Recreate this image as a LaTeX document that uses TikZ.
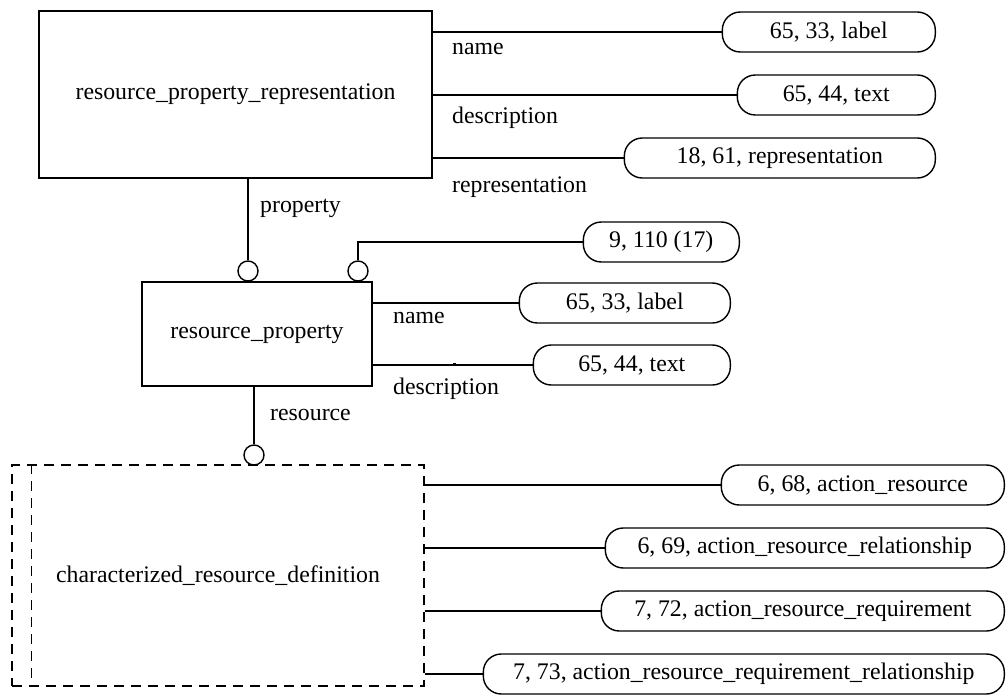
\documentclass[tikz,border=0pt]{standalone}
\usepackage{fontspec}
\setmainfont{Liberation Serif}
\begin{document}
\begin{tikzpicture}[x=1pt,y=-1pt,
  every node/.style={font=\fontsize{23.8}{28}\selectfont, inner sep=0pt},
  ent/.style={draw, line width=1.4pt, rectangle},
  pill/.style={draw, line width=1.4pt, rounded corners=18pt, minimum height=40pt, anchor=east},
  lbl/.style={anchor=base west},
  conn/.style={line width=1.4pt},
  ring/.style={draw, circle, line width=1.4pt, minimum size=20pt},
  dsh/.style={dash pattern=on 10pt off 7pt}
]
\useasboundingbox (0,0) rectangle (1007,696);

% entities
\node[ent, minimum width=393pt, minimum height=167pt] (rpr) at (235.5,94.5) {resource\_property\_representation};
\node[ent, minimum width=230pt, minimum height=104pt] (rp) at (257,334) {resource\_property};
\node[ent, dsh, minimum width=412pt, minimum height=221pt] (crd) at (218,575.5) {characterized\_resource\_definition};
\draw[conn, dsh] ([xshift=20pt]crd.north west) -- ([xshift=20pt]crd.south west);

% attribute pills
\node[pill, minimum width=213pt] (a1) at (936,32) {65, 33, label};
\node[pill, minimum width=198pt] (a2) at (936,95) {65, 44, text};
\node[pill, minimum width=311pt] (a3) at (936,158) {18, 61, representation};

\node[pill, minimum width=156pt] (b1) at (740,242) {9, 110 (17)};
\node[pill, minimum width=211pt] (b2) at (731,303) {65, 33, label};
\node[pill, minimum width=197pt] (b3) at (731,365) {65, 44, text};

\node[pill, minimum width=283pt] (d1) at (1005,485) {6, 68, action\_resource};
\node[pill, minimum width=399pt] (d2) at (1005,548) {6, 69, action\_resource\_relationship};
\node[pill, minimum width=403pt] (d3) at (1005,611) {7, 72, action\_resource\_requirement};
\node[pill, minimum width=521pt] (d4) at (1005,674) {7, 73, action\_resource\_requirement\_relationship};

% rings
\node[ring] (c1) at (248,271) {};
\node[ring] (c2) at (358,271) {};
\node[ring] (c3) at (254,455) {};

% connectors
\draw[conn] (rpr.east |- a1.west) -- (a1.west);
\draw[conn] (rpr.east |- a2.west) -- (a2.west);
\draw[conn] (rpr.east |- a3.west) -- (a3.west);
\draw[conn] (c1 |- rpr.south) -- (c1.north);
\draw[conn] (c2.north) |- (b1.west);
\draw[conn] (rp.east |- b2.west) -- (b2.west);
\draw[conn] (rp.east |- b3.west) -- (b3.west);
\draw[conn] (c3 |- rp.south) -- (c3.north);
\draw[conn] (crd.east |- d1.west) -- (d1.west);
\draw[conn] (crd.east |- d2.west) -- (d2.west);
\draw[conn] (crd.east |- d3.west) -- (d3.west);
\draw[conn] (crd.east |- d4.west) -- (d4.west);
\fill (452.5,362.5) rectangle (455.5,365.5);

% role labels
\node[lbl] (l1) at (452,54) {name};
\node[lbl] (l2) at (452,123) {description};
\node[lbl] (l3) at (452,192) {representation};
\node[lbl] (l4) at (260,212) {property};
\node[lbl] (l5) at (393,323) {name};
\node[lbl] (l6) at (393,394) {description};
\node[lbl] (l7) at (270,420) {resource};
\end{tikzpicture}
\end{document}
